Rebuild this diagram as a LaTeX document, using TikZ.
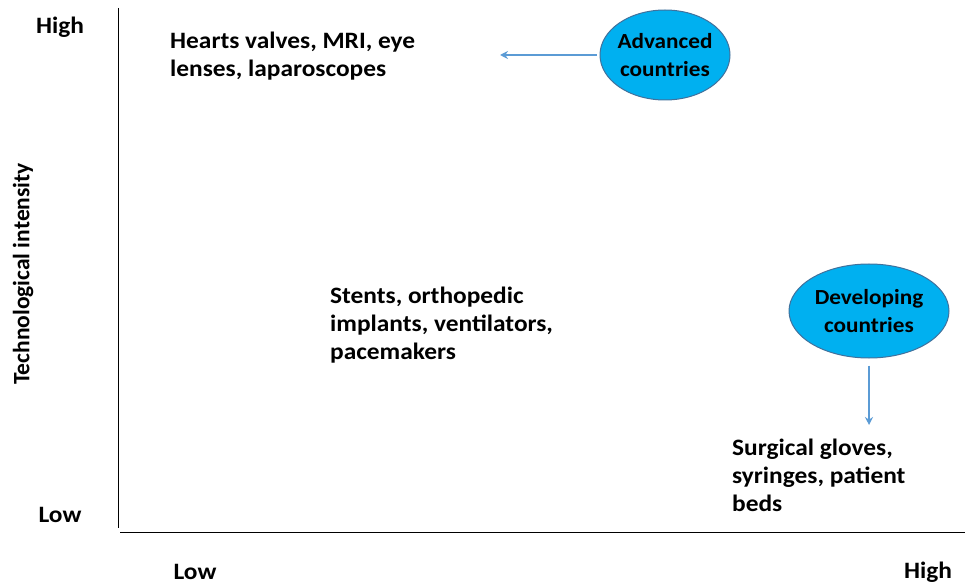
\documentclass[tikz,border=0pt]{standalone}
\usepackage{fontspec}
\setmainfont{Carlito}
\newfontfamily\widefont[FakeStretch=1.08]{Carlito}
\usetikzlibrary{shapes.geometric,arrows.meta}

\definecolor{bubblefill}{HTML}{00B0F0}
\definecolor{bubbleline}{HTML}{41719C}
\definecolor{arrowblue}{HTML}{5B9BD5}

\tikzset{
  label/.style={font=\widefont\fontsize{23.5}{28}\selectfont\bfseries, inner sep=0, align=left},
  bubble/.style={ellipse, draw=bubbleline, fill=bubblefill, line width=1, inner xsep=-4, inner ysep=0,
    font=\widefont\fontsize{21.5}{28}\selectfont\bfseries, align=center},
  pointer/.style={draw=arrowblue, line width=2, -{Stealth[length=8,width=8]}}
}

\begin{document}
\begin{tikzpicture}[x=1pt, y=-1pt]
  \useasboundingbox (0,0) rectangle (966,585);

  % axes
  \draw[line width=1] (118, 8) -- (118, 528);
  \draw[line width=1] (120, 532) -- (965, 532);

  \node[label] (yhigh) at ({60}, 27) {High};
  \node[label] (ylow) at ({60}, 515) {Low};
  \node[label, font=\fontsize{23.5}{28}\selectfont\bfseries, rotate=90] (ytitle) at ({23}, 274) {Technological intensity};
  \node[label] (xlow) at ({195}, 572) {Low};
  \node[label] (xhigh) at ({928}, 572) {High};

  % the three groups of products
  \node[label, anchor=west] (hightech) at ({170}, 56)
    {Hearts valves, MRI, eye\\lenses, laparoscopes};
  \node[label, anchor=west] (midtech) at ({330}, 325)
    {Stents, orthopedic\\implants, ventilators,\\pacemakers};
  \node[label, anchor=west] (lowtech) at ({732}, 475)
    {Surgical gloves,\\syringes, patient\\beds};

  % who makes what
  \node[bubble, minimum width=130, minimum height=90] (advanced) at ({665}, 55)
    {Advanced\\countries};
  \node[bubble, minimum width=160, minimum height=94] (developing) at ({869}, 311)
    {Developing\\countries};

  \coordinate (advtip) at ({500}, 55);
  \coordinate (devtip) at ({869}, 425);
  \draw[pointer, shorten <=3] (advanced.west) -- (advtip);
  \draw[pointer, shorten <=7] (developing.south) -- (devtip);

\end{tikzpicture}
\end{document}
